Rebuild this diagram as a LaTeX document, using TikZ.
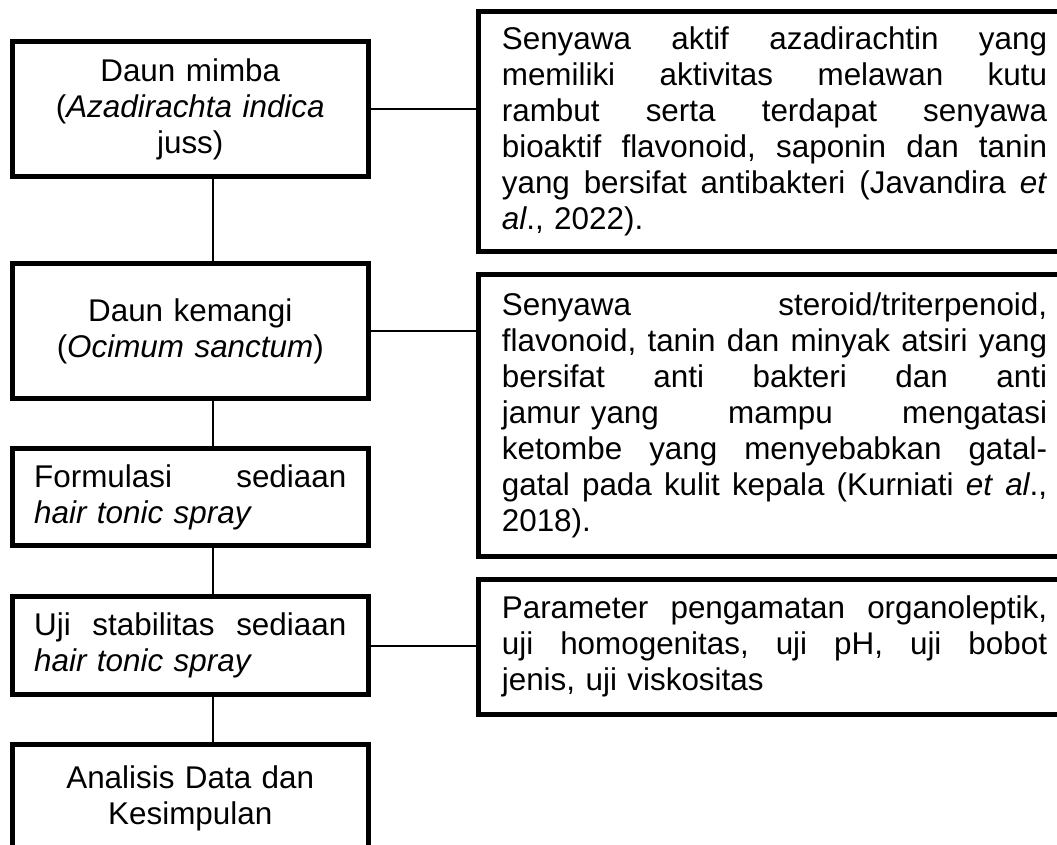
\documentclass[tikz,border=0pt]{standalone}
\usepackage{fontspec}
\setmainfont{Liberation Sans}
\newcommand{\jline}[2][5.45cm]{\leavevmode\hbox to #1{#2}\\}
\begin{document}
\begin{tikzpicture}[x=0.01cm, y=-0.01cm,
   box/.style={draw, line width=1.42pt, inner sep=0pt, font=\fontsize{8.93pt}{10.24pt}\selectfont},
   lbox/.style={box, minimum width=3.555cm, text width=3.12cm},
   rbox/.style={box, minimum width=5.91cm, text width=5.45cm, align=left},
   link/.style={line width=0.45pt}]
   \clip (0,0) rectangle (1057,845);
   \node[lbox, align=center, minimum height=1.34cm] (v0) at (190.25, 109) {Daun mimba\\(\textit{Azadirachta indica}\\juss)};
   \node[lbox, align=center, minimum height=1.34cm] (v1) at (190.25, 331) {Daun kemangi\\(\textit{Ocimum sanctum})};
   \node[lbox, align=left, minimum height=0.97cm] (v2) at (190.25, 497) {\jline[3.12cm]{Formulasi\hfill sediaan}\textit{hair tonic spray}};
   \node[lbox, align=left, minimum height=0.975cm] (v3) at (190.25, 645.75) {\jline[3.12cm]{Uji\hfill stabilitas\hfill sediaan}\textit{hair tonic spray}};
   \node[lbox, align=center, minimum height=1.07cm] (v4) at (190.25, 798.5) {Analisis Data dan\\Kesimpulan};
   \node[rbox, minimum height=2.39cm] (w0) at (774.5, 131.5) {\jline{Senyawa\hfill aktif\hfill azadirachtin\hfill yang}\jline{memiliki\hfill aktivitas\hfill melawan\hfill kutu}\jline{rambut\hfill serta\hfill terdapat\hfill senyawa}\jline{bioaktif\hfill flavonoid,\hfill saponin\hfill dan\hfill tanin}\jline{yang\hfill bersifat\hfill antibakteri\hfill (Javandira\hfill \textit{et}}\textit{al}., 2022).};
   \node[rbox, minimum height=2.815cm] (w1) at (774.5, 415.75) {\jline{Senyawa\hfill steroid/triterpenoid,}\jline{flavonoid,\hfill tanin\hfill dan\hfill minyak\hfill atsiri\hfill yang}\jline{bersifat\hfill anti\hfill bakteri\hfill dan\hfill anti}\jline{jamur yang\hfill mampu\hfill mengatasi}\jline{ketombe\hfill yang\hfill menyebabkan\hfill gatal-}\jline{gatal\hfill pada\hfill kulit\hfill kepala\hfill (Kurniati\hfill \textit{et}\hfill\textit{al}.,}2018).};
   \node[rbox, minimum height=1.345cm] (w2) at (774.5, 646.75) {\jline{Parameter\hfill pengamatan\hfill organoleptik,}\jline{uji\hfill homogenitas,\hfill uji\hfill pH,\hfill uji\hfill bobot}jenis, uji viskositas};
   \coordinate (s) at (213, 0);
   \draw[link] (v0.south -| s) -- (v1.north -| s);
   \draw[link] (v1.south -| s) -- (v2.north -| s);
   \draw[link] (v2.south -| s) -- (v3.north -| s);
   \draw[link] (v3.south -| s) -- (v4.north -| s);
   \draw[link] (v0.east) -- (v0.east -| w0.west);
   \draw[link] (v1.east) -- (v1.east -| w1.west);
   \draw[link] (v3.east) -- (v3.east -| w2.west);
\end{tikzpicture}
\end{document}
